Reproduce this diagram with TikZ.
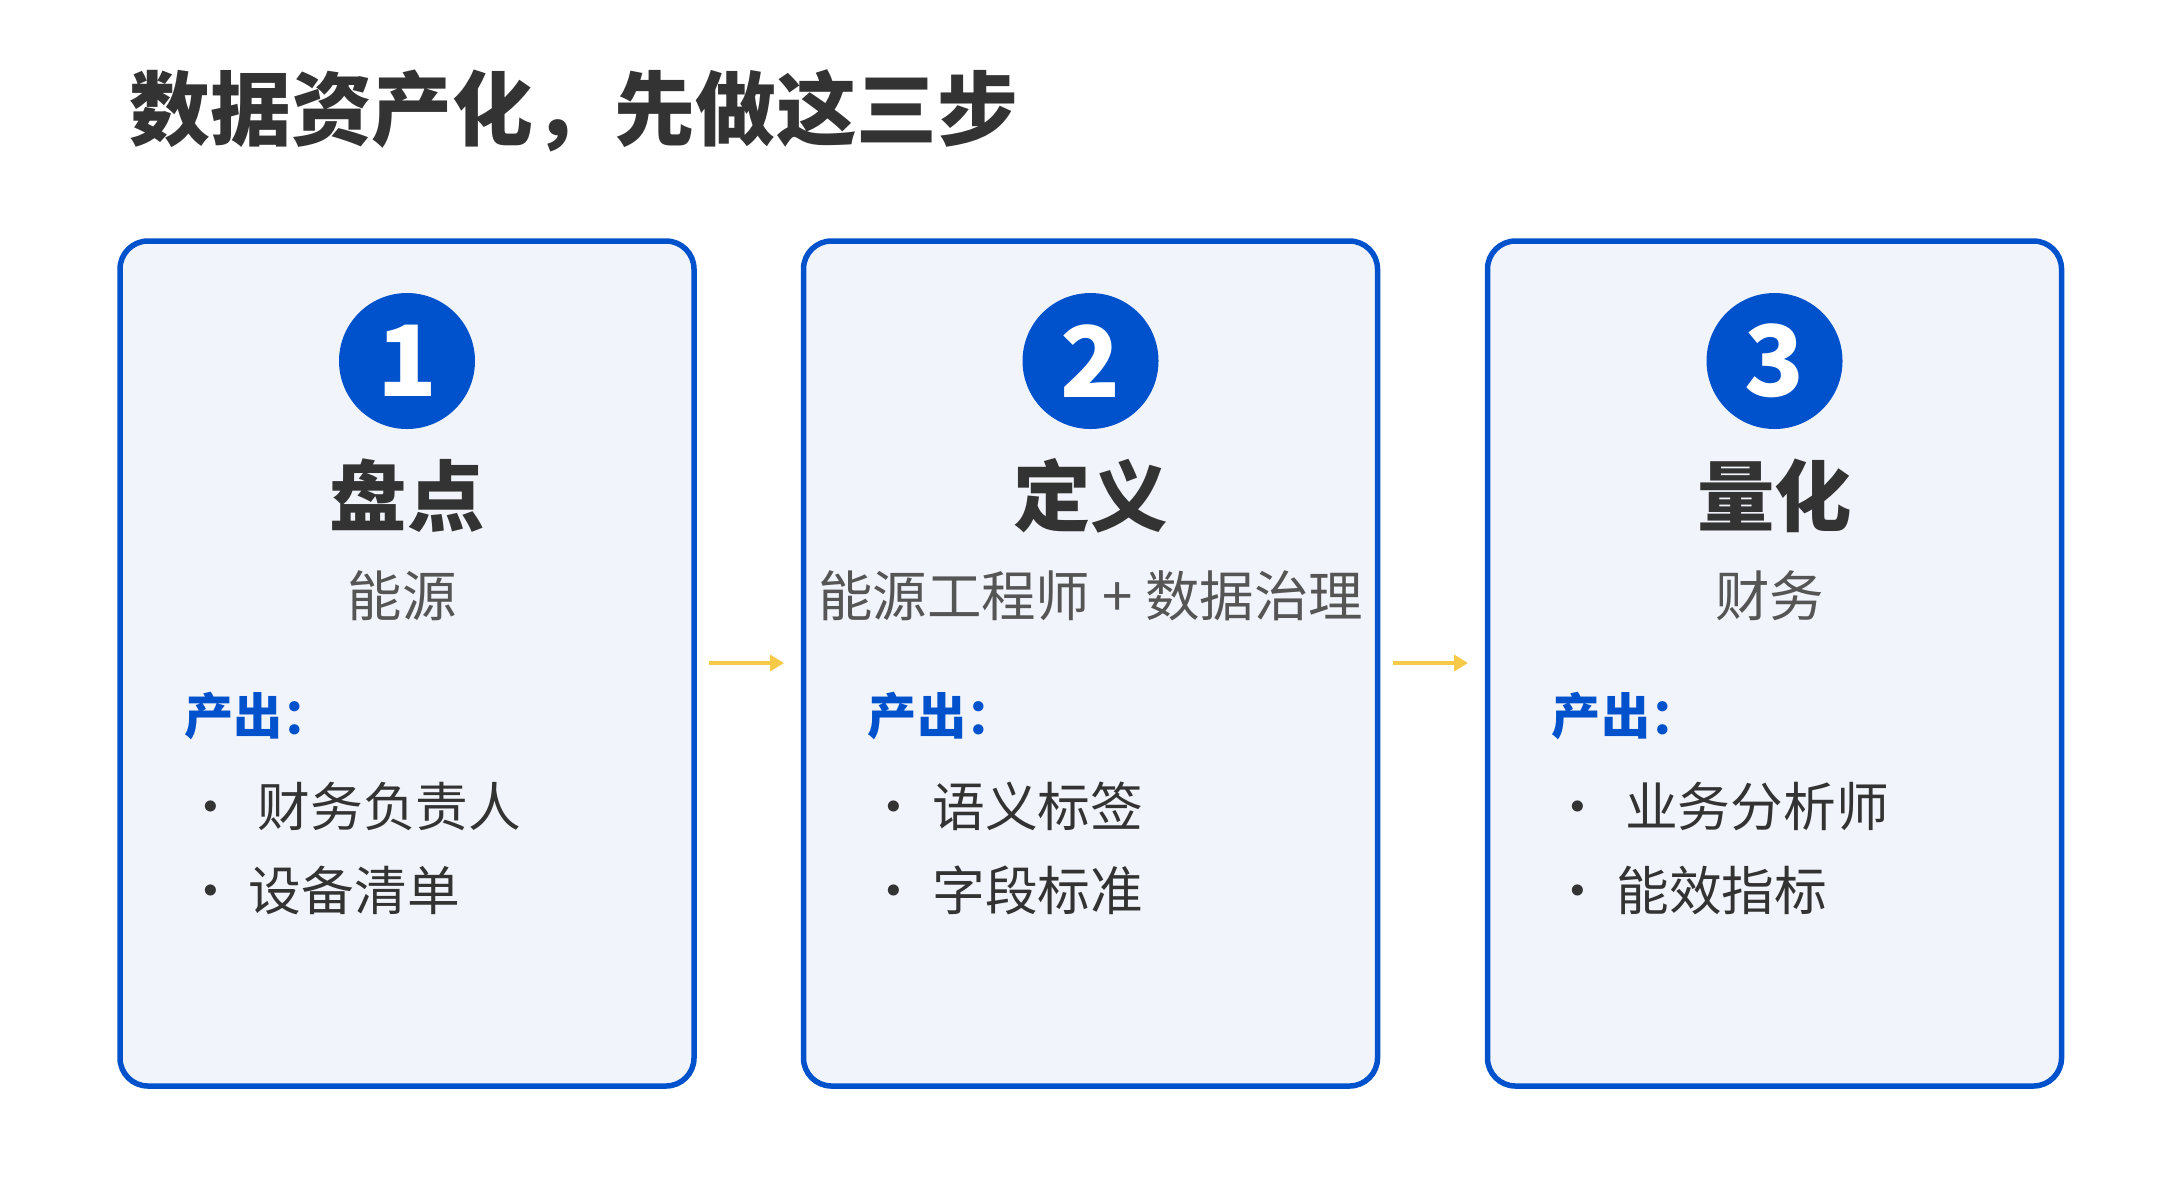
\documentclass[tikz,border=0pt]{standalone}
\usepackage{fontspec}
\setmainfont{Noto Sans CJK SC}
\usetikzlibrary{arrows.meta}
\definecolor{bl}{HTML}{0052CC}
\definecolor{bg}{HTML}{F1F5FB}
\definecolor{tx}{HTML}{333333}
\definecolor{gr}{HTML}{555555}
\definecolor{yl}{HTML}{F7C948}
\tikzset{
 mycard/.style={draw=bl,fill=bg,line width=0.055cm,rounded corners=0.28cm,minimum width=5.74cm,minimum height=8.45cm},
 mynum/.style={circle,fill=bl,minimum size=1.36cm,inner sep=0,text=white,font=\fontsize{28pt}{30pt}\selectfont\bfseries},
 mystepname/.style={text=tx,font=\fontsize{22pt}{24pt}\selectfont\bfseries},
 myrole/.style={text=gr,font=\fontsize{15.5pt}{17pt}\selectfont},
 myout/.style={anchor=west,text=bl,font=\fontsize{14pt}{16pt}\selectfont\bfseries},
 myitem/.style={anchor=west,text=tx,font=\fontsize{15pt}{17pt}\selectfont},
 myflow/.style={draw=yl,line width=0.045cm,-{Triangle[length=0.14cm,width=0.16cm]}}
}
\begin{document}
\begin{tikzpicture}
\useasboundingbox[fill=white] (0,0) rectangle (21.6,-12);
\node[anchor=west,text=tx,font=\fontsize{23pt}{26pt}\selectfont\bfseries] (title) at (1.17,-1.11) {数据资产化，先做这三步};
\foreach \i/\x/\n/\r/\a/\b in {1/4.07/盘点/能源\,/\,财务负责人/设备清单/口径对照表, 2/10.905/定义/能源工程师 + 数据治理/语义标签/字段标准, 3/17.745/量化/财务\,/\,业务分析师/能效指标/负荷指标}{
 \node[mycard] (c\i) at (\x,-6.635) {};
 \node[mynum] (n\i) at (\x,-3.61) {\i};
 \node[mystepname] (s\i) at (\x,-4.96) {\n};
 \node[myrole] (r\i) at (\x,-5.96) {\r};
 \node[myout] (o\i) at (\x-2.35,-7.16) {产出：};
 \node[myitem] (a\i) at (\x-2.35,-8.06) {· \a};
 \node[myitem] (b\i) at (\x-2.35,-8.9) {· \b};
}
\coordinate (p1) at (7.09,-6.63); \coordinate (q1) at (7.84,-6.63);
\coordinate (p2) at (13.93,-6.63); \coordinate (q2) at (14.68,-6.63);
\draw[myflow] (p1) -- (q1);
\draw[myflow] (p2) -- (q2);
\end{tikzpicture}
\end{document}
